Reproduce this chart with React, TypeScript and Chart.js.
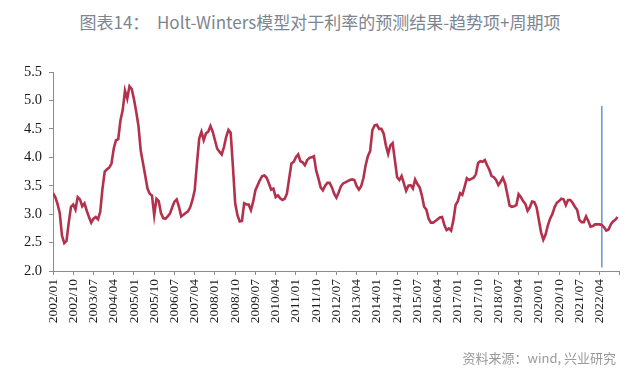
import React, { useEffect, useRef } from "react";
import { Chart, registerables } from "chart.js";

Chart.register(...registerables);

// Monthly rate series, 2002/01 .. 2022/12 (one row per year)
const rates: number[] = [
  3.37, 3.30, 3.18, 3.02, 2.62, 2.49, 2.53, 2.85, 3.13, 3.17, 3.08, 3.30, // 2002
  3.26, 3.14, 3.19, 3.06, 2.95, 2.85, 2.92, 2.95, 2.91, 3.04, 3.45, 3.75, // 2003
  3.79, 3.82, 3.89, 4.15, 4.30, 4.32, 4.65, 4.83, 5.17, 5.03, 5.25, 5.20, // 2004
  5.02, 4.80, 4.55, 4.12, 3.90, 3.68, 3.45, 3.36, 3.33, 2.98, 3.27, 3.23, // 2005
  3.02, 2.93, 2.92, 2.96, 3.01, 3.12, 3.22, 3.26, 3.13, 2.96, 2.99, 3.02, // 2006
  3.05, 3.12, 3.25, 3.42, 3.89, 4.33, 4.45, 4.30, 4.42, 4.45, 4.55, 4.45, // 2007
  4.30, 4.15, 4.10, 4.05, 4.18, 4.36, 4.48, 4.43, 3.83, 3.19, 2.98, 2.87, // 2008
  2.88, 3.19, 3.17, 3.17, 3.07, 3.22, 3.42, 3.51, 3.60, 3.67, 3.68, 3.64, // 2009
  3.54, 3.43, 3.45, 3.30, 3.33, 3.28, 3.25, 3.27, 3.36, 3.63, 3.89, 3.92, // 2010
  4.00, 4.05, 3.93, 3.91, 3.86, 3.95, 3.99, 4.00, 4.02, 3.77, 3.63, 3.47, // 2011
  3.42, 3.50, 3.55, 3.55, 3.47, 3.36, 3.29, 3.38, 3.49, 3.54, 3.56, 3.58, // 2012
  3.60, 3.61, 3.60, 3.49, 3.43, 3.49, 3.63, 3.86, 4.02, 4.11, 4.48, 4.56, // 2013
  4.57, 4.50, 4.50, 4.42, 4.21, 4.06, 4.21, 4.25, 3.95, 3.65, 3.60, 3.67, // 2014
  3.54, 3.41, 3.50, 3.51, 3.45, 3.61, 3.53, 3.47, 3.33, 3.13, 3.08, 2.92, // 2015
  2.85, 2.85, 2.88, 2.91, 2.94, 2.95, 2.81, 2.72, 2.75, 2.71, 2.89, 3.16, // 2016
  3.23, 3.37, 3.34, 3.48, 3.63, 3.60, 3.62, 3.64, 3.70, 3.90, 3.93, 3.92, // 2017
  3.95, 3.86, 3.78, 3.67, 3.65, 3.60, 3.51, 3.57, 3.64, 3.54, 3.35, 3.15, // 2018
  3.13, 3.14, 3.16, 3.35, 3.30, 3.23, 3.18, 3.06, 3.12, 3.22, 3.21, 3.12, // 2019
  2.90, 2.68, 2.55, 2.64, 2.80, 2.92, 3.00, 3.12, 3.20, 3.23, 3.27, 3.26, // 2020
  3.16, 3.25, 3.25, 3.20, 3.13, 3.08, 2.90, 2.86, 2.86, 2.96, 2.88, 2.78, // 2021
  2.79, 2.82, 2.82, 2.82, 2.81, 2.77, 2.71, 2.73, 2.82, 2.87, 2.90, 2.95, // 2022
];

const startYear = 2002;
const labelStep = 9; // a tick label every 9 months
const axisEnd = 252; // 2023/01, tick drawn without a label
const yTicks = [2.0, 2.5, 3.0, 3.5, 4.0, 4.5, 5.0, 5.5];
const markerMonth = 244; // 2022/05
const markerRange = [2.06, 4.9];

const titleText = "图表14：  Holt-Winters模型对于利率的预测结果-趋势项+周期项";
const sourceText = "资料来源：wind, 兴业研究";

function monthLabel(i: number): string {
  const y = startYear + Math.floor(i / 12);
  const m = (i % 12) + 1;
  return `${y}/${m < 10 ? "0" + m : m}`;
}

export default function App() {
  const canvasRef = useRef<HTMLCanvasElement | null>(null);

  useEffect(() => {
    document.body.style.margin = "0";
    const canvas = canvasRef.current;
    if (!canvas) return;
    const serif = "'Liberation Serif', 'DejaVu Serif', serif";
    const chart = new Chart(canvas, {
      type: "line",
      data: {
        datasets: [
          {
            data: rates.map((v, i) => ({ x: i, y: v })),
            borderColor: "#b3314c",
            borderWidth: 2.6,
            pointRadius: 0,
            tension: 0,
          },
          {
            data: markerRange.map((v) => ({ x: markerMonth, y: v })),
            borderColor: "#6d9dcc",
            borderWidth: 1.6,
            pointRadius: 0,
          },
        ],
      },
      options: {
        animation: false,
        responsive: true,
        maintainAspectRatio: false,
        layout: { padding: { left: 0, top: 72, right: 20, bottom: 0 } },
        plugins: {
          legend: { display: false },
          tooltip: { enabled: false },
          title: { display: false },
        },
        scales: {
          x: {
            type: "linear",
            min: 0,
            max: axisEnd,
            afterFit: (s: any) => {
              s.height = 117;
            },
            afterBuildTicks: (s: any) => {
              const t = [];
              for (let i = 0; i <= axisEnd; i += labelStep) t.push({ value: i });
              s.ticks = t;
            },
            ticks: {
              autoSkip: false,
              maxRotation: 90,
              minRotation: 90,
              padding: 4,
              color: "#1a1a1a",
              font: { family: serif, size: 13.5 },
              callback: (v: any) => (Number(v) < axisEnd ? monthLabel(Number(v)) : ""),
            },
            grid: {
              drawOnChartArea: false,
              drawTicks: true,
              tickLength: 4,
              color: "#8c8c8c",
            },
            border: { display: true, color: "#8c8c8c", width: 1 },
          },
          y: {
            min: 2,
            max: 5.5,
            afterFit: (s: any) => {
              s.width = 53;
            },
            afterBuildTicks: (s: any) => {
              s.ticks = yTicks.map((v) => ({ value: v }));
            },
            ticks: {
              padding: 7,
              color: "#1a1a1a",
              font: { family: serif, size: 14.5 },
              callback: (v: any) => Number(v).toFixed(1),
            },
            grid: {
              drawOnChartArea: false,
              drawTicks: true,
              tickLength: 4,
              color: "#8c8c8c",
            },
            border: { display: true, color: "#8c8c8c", width: 1 },
          },
        },
      },
    });
    return () => chart.destroy();
  }, []);

  return (
    <div
      style={{
        position: "absolute",
        left: 0,
        top: 0,
        width: 640,
        height: 388,
        background: "#ffffff",
        overflow: "hidden",
      }}
    >
      <div
        style={{
          position: "absolute",
          left: 0,
          top: 10,
          width: 640,
          height: 24,
          lineHeight: "24px",
          textAlign: "center",
          whiteSpace: "pre",
          fontFamily: "'Noto Sans CJK SC', 'Noto Sans', sans-serif",
          fontSize: 17,
          color: "#7d8591",
        }}
      >
        {titleText}
      </div>
      <div style={{ position: "absolute", left: 0, top: 0, width: 640, height: 388 }}>
        <canvas ref={canvasRef} />
      </div>
      <div
        style={{
          position: "absolute",
          right: 24,
          top: 348,
          height: 20,
          lineHeight: "20px",
          fontFamily: "'Noto Sans CJK SC', 'Noto Sans', sans-serif",
          fontSize: 13,
          color: "#9a9a9a",
          whiteSpace: "pre",
        }}
      >
        {sourceText}
      </div>
    </div>
  );
}
